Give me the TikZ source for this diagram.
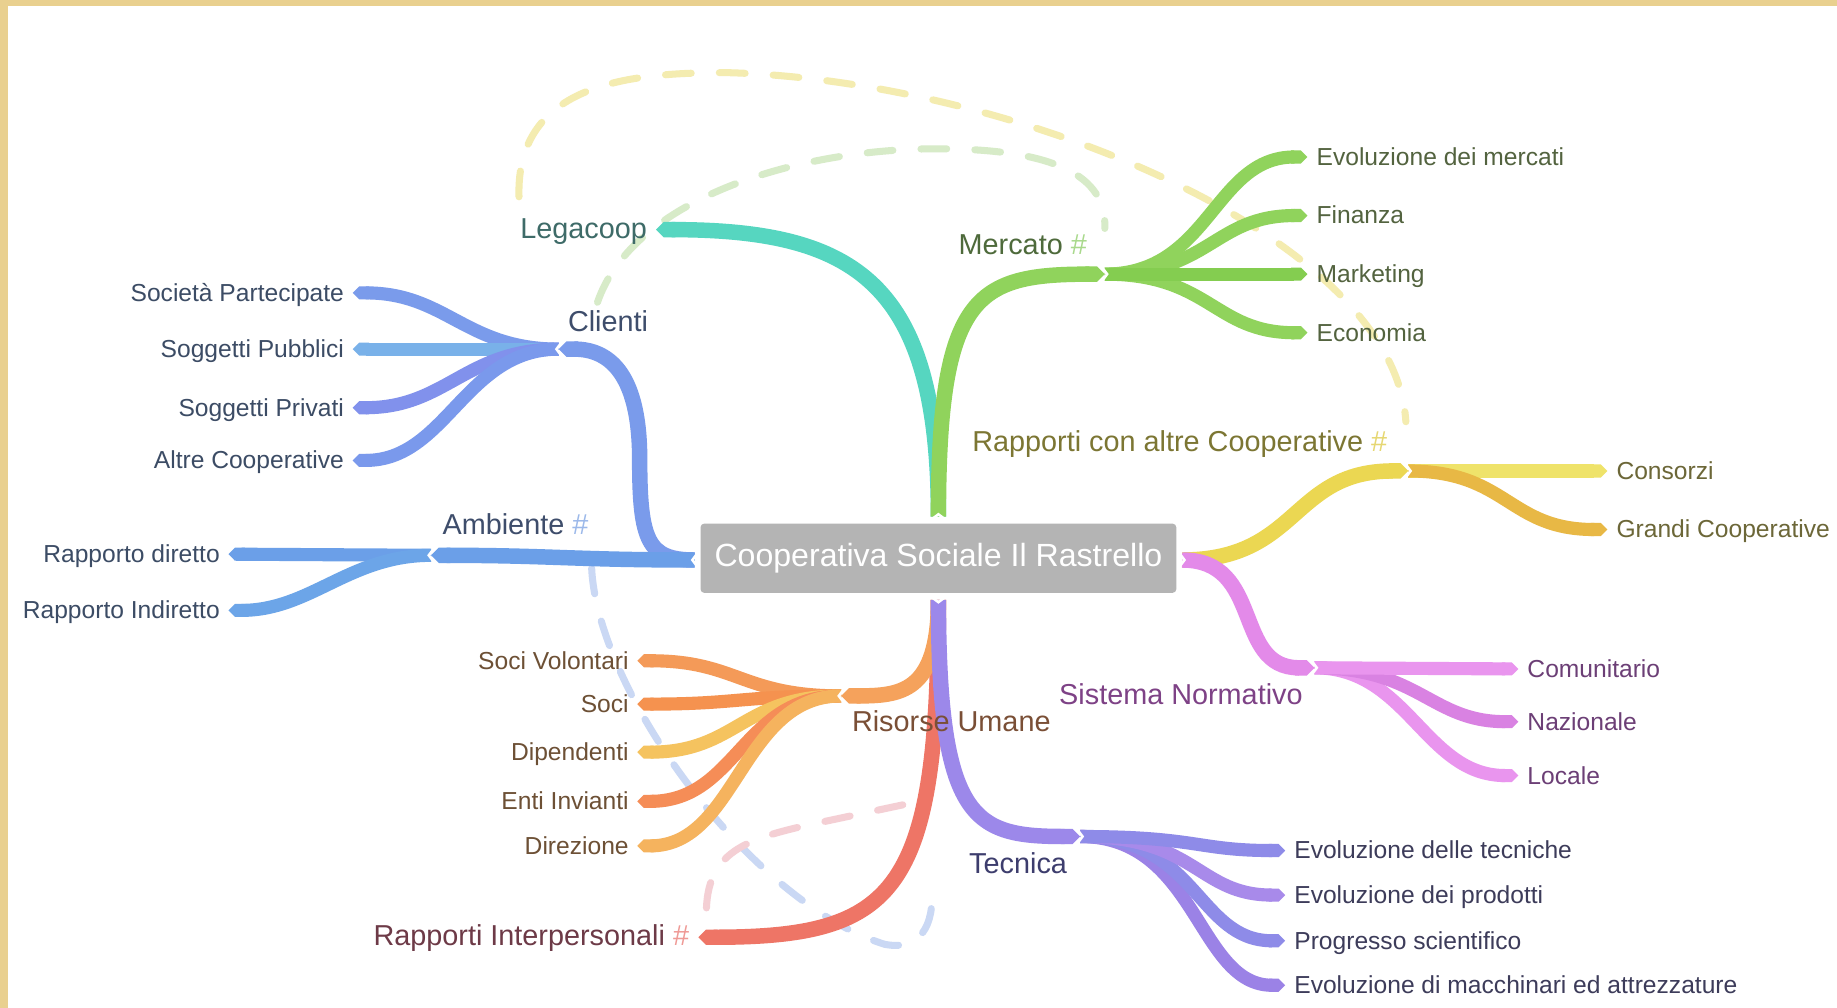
\documentclass[tikz,border=0pt]{standalone}
\usepackage{fontspec}
\setmainfont{Liberation Sans}
\usetikzlibrary{arrows.meta,calc}

% frame and centre box
\definecolor{frame}{HTML}{E9D08F}
\definecolor{rootgray}{HTML}{B4B4B4}
% branch colours
\definecolor{cTeal}{HTML}{56D6C0}
\definecolor{cGreen}{HTML}{90D35C}
\definecolor{cGreenB}{HTML}{84CD50}
\definecolor{cYellow}{HTML}{EBD752}
\definecolor{cYellowL}{HTML}{EFE36A}
\definecolor{cAmber}{HTML}{E8B845}
\definecolor{cPink}{HTML}{E38AE9}
\definecolor{cPinkL}{HTML}{E995EE}
\definecolor{cPinkD}{HTML}{D982E2}
\definecolor{cPurple}{HTML}{9C88EA}
\definecolor{cPurpA}{HTML}{8E8BE8}
\definecolor{cPurpB}{HTML}{A88AEA}
\definecolor{cPurpC}{HTML}{9B82E6}
\definecolor{cOrange}{HTML}{F5A25C}
\definecolor{cOrA}{HTML}{F49A58}
\definecolor{cOrB}{HTML}{F5924F}
\definecolor{cOrC}{HTML}{F5C35F}
\definecolor{cOrD}{HTML}{F58D57}
\definecolor{cOrE}{HTML}{F5B35E}
\definecolor{cRed}{HTML}{EE7566}
\definecolor{cBlueA}{HTML}{6B9FE8}
\definecolor{cBlueA2}{HTML}{6CA5E8}
\definecolor{cBlueC}{HTML}{7A9BEB}
\definecolor{cBlueP}{HTML}{79B1E9}
\definecolor{cBlueV}{HTML}{8191EC}
\definecolor{cBlueK}{HTML}{7A99EC}
% text colours
\definecolor{tTeal}{HTML}{3E6B68}
\definecolor{tGreen}{HTML}{4E6A3B}
\definecolor{tGreenS}{HTML}{53633F}
\definecolor{tOlive}{HTML}{7C7633}
\definecolor{tOliveS}{HTML}{6C6738}
\definecolor{tPurp}{HTML}{7E4286}
\definecolor{tPurpS}{HTML}{6C3F76}
\definecolor{tNavy}{HTML}{3D3D6D}
\definecolor{tNavyS}{HTML}{3D3C5A}
\definecolor{tBrown}{HTML}{7A4F36}
\definecolor{tBrownS}{HTML}{6D5035}
\definecolor{tRed}{HTML}{6D3A47}
\definecolor{tBlue}{HTML}{3E4D6B}
\definecolor{tBlueS}{HTML}{3C4C65}
% hash marks
\definecolor{hGreen}{HTML}{A9D98C}
\definecolor{hYellow}{HTML}{E6D772}
\definecolor{hBlue}{HTML}{9CB9EA}
\definecolor{hRed}{HTML}{EF9A96}
% relation links
\definecolor{lkYellow}{HTML}{F4ECB0}
\definecolor{lkGreen}{HTML}{D7EBC8}
\definecolor{lkBlue}{HTML}{CAD8F4}
\definecolor{lkPink}{HTML}{F4CFD4}

\pgfdeclarelayer{back}
\pgfdeclarelayer{notches}
\pgfsetlayers{back,notches,main}

\tikzset{
  rootbox/.style={fill=rootgray, rounded corners=1.5pt, minimum width=203pt,
    minimum height=29.5pt, inner sep=0pt, text=white,
    font=\fontsize{13.7}{16}\selectfont},
  toplabel/.style={inner sep=0pt, text height=0.72em, text depth=0pt,
    font=\fontsize{12.3}{14}\selectfont},
  leafR/.style={anchor=west, inner xsep=3.7pt, inner ysep=0pt,
    text height=0.72em, text depth=0pt, font=\fontsize{10.5}{12}\selectfont},
  leafL/.style={anchor=east, inner xsep=3.5pt, inner ysep=0pt,
    text height=0.72em, text depth=0pt, font=\fontsize{10.5}{12}\selectfont},
  endR/.style={toplabel, anchor=west, inner xsep=3.7pt},
  endL/.style={toplabel, anchor=east, inner xsep=3.7pt},
  trunk/.style={line width=6.6pt, -{Triangle Cap[]}},
  twig/.style={line width=5.6pt, -{Triangle Cap[]}},
  relink/.style={line width=3pt, line cap=round, dash pattern=on 11pt off 12pt},
  notch/.style={white, line width=1.1pt, line join=miter},
}

\begin{document}
\begin{tikzpicture}[x=0.5pt,y=-0.5pt]
\useasboundingbox (0,0) rectangle (1568,860);

% ---------- centre ----------
\node[rootbox] (root) at (801,476.5) {Cooperativa Sociale Il Rastrello};
\coordinate (rN) at (801,441);
\coordinate (rS) at (801,512);
\coordinate (rW) at (593,478);
\coordinate (rE) at (1009,478);

% ---------- labels ----------
\node[endL, text=tTeal] (lega) at (560,196) {Legacoop};

\node[toplabel, text=tGreen] (merc) at (873,210) {Mercato \textcolor{hGreen}{\#}};
\coordinate (mJ) at (943,234);
\node[leafR, text=tGreenS] (m1) at (1116,134) {Evoluzione dei mercati};
\node[leafR, text=tGreenS] (m2) at (1116,184) {Finanza};
\node[leafR, text=tGreenS] (m3) at (1116,234) {Marketing};
\node[leafR, text=tGreenS] (m4) at (1116,284) {Economia};

\node[toplabel, text=tOlive] (rapc) at (1007,378) {Rapporti con altre Cooperative \textcolor{hYellow}{\#}};
\coordinate (rcJ) at (1202,402);
\node[leafR, text=tOliveS] (c1) at (1372,402) {Consorzi};
\node[leafR, text=tOliveS] (c2) at (1372,452) {Grandi Cooperative};

\node[toplabel, text=tPurp] (sist) at (1008,594) {Sistema Normativo};
\coordinate (snJ) at (1122,570);
\node[leafR, text=tPurpS] (s1) at (1296,571) {Comunitario};
\node[leafR, text=tPurpS] (s2) at (1296,616) {Nazionale};
\node[leafR, text=tPurpS] (s3) at (1296,662) {Locale};

\node[toplabel, text=tNavy] (tecn) at (869,738) {Tecnica};
\coordinate (tJ) at (922,714);
\node[leafR, text=tNavyS] (t1) at (1097,726) {Evoluzione delle tecniche};
\node[leafR, text=tNavyS] (t2) at (1097,764) {Evoluzione dei prodotti};
\node[leafR, text=tNavyS] (t3) at (1097,803) {Progresso scientifico};
\node[leafR, text=tNavyS] (t4) at (1097,841) {Evoluzione di macchinari ed attrezzature};

\node[toplabel, text=tBrown] (riso) at (812,617) {Risorse Umane};
\coordinate (ruJ) at (718,594);
\node[leafL, text=tBrownS] (u1) at (544,564) {Soci Volontari};
\node[leafL, text=tBrownS] (u2) at (544,601) {Soci};
\node[leafL, text=tBrownS] (u3) at (544,642) {Dipendenti};
\node[leafL, text=tBrownS] (u4) at (544,684) {Enti Invianti};
\node[leafL, text=tBrownS] (u5) at (544,722) {Direzione};

\node[endL, text=tRed] (rint) at (596,800) {Rapporti Interpersonali \textcolor{hRed}{\#}};

\node[toplabel, text=tBlue] (amb) at (440,449) {Ambiente \textcolor{hBlue}{\#}};
\coordinate (amJ) at (368,474);
\node[leafL, text=tBlueS] (a1) at (195,473) {Rapporto diretto};
\node[leafL, text=tBlueS] (a2) at (195,521) {Rapporto Indiretto};

\node[toplabel, text=tBlue] (clie) at (519,276) {Clienti};
\coordinate (clM) at (546,392);
\coordinate (clJ) at (477,298);
\node[leafL, text=tBlueS] (k1) at (301,250) {Società Partecipate};
\node[leafL, text=tBlueS] (k2) at (301,298) {Soggetti Pubblici};
\node[leafL, text=tBlueS] (k3) at (301,348) {Soggetti Privati};
\node[leafL, text=tBlueS] (k4) at (301,393) {Altre Cooperative};

% free ends of the relation links
\coordinate (lkYa) at (443,168);
\coordinate (lkYm) at (620,62);
\coordinate (lkYb) at (1200,360);
\coordinate (lkGa) at (510,258);
\coordinate (lkGm) at (800,127);
\coordinate (lkGb) at (943,195);
\coordinate (lkBa) at (505,485);
\coordinate (lkBm) at (755,806);
\coordinate (lkBb) at (795,758);
\coordinate (lkPa) at (603,775);
\coordinate (lkPm) at (700,702);
\coordinate (lkPb) at (780,685);

\begin{pgfonlayer}{back}
  % paper frame
  \fill[white] (0,0) rectangle (1568,860);
  \fill[frame] (0,0) rectangle (1568,5);
  \fill[frame] (0,0) rectangle (7,860);

  % relation links
  \draw[relink, lkYellow] (lkYa) .. controls +(-3,-98) and +(-80,0) .. (lkYm)
        .. controls +(240,6) and +(-10,-160) .. (lkYb);
  \draw[relink, lkGreen] (lkGa) .. controls +(30,-88) and +(-120,0) .. (lkGm)
        .. controls +(100,0) and +(2,-45) .. (lkGb);
  \draw[relink, lkBlue] (lkBa) .. controls +(5,105) and +(-115,-36) .. (lkBm)
        .. controls +(30,6) and +(3,32) .. (lkBb);
  \draw[relink, lkPink] (lkPa) .. controls +(2,-50) and +(-60,13) .. (lkPm) -- (lkPb);

  % upper branches
  \draw[trunk, cTeal] (rN) .. controls +(0,-200) and +(170,0) .. (lega.east);
  \draw[trunk, cGreen] (rN) .. controls +(0,-190) and +(-110,0) .. (mJ);
  \draw[twig, cGreen] (mJ) .. controls +(90,0) and +(-80,0) .. (m1.west);
  \draw[twig, cGreen] (mJ) .. controls +(90,0) and +(-80,0) .. (m2.west);
  \draw[twig, cGreen] (mJ) .. controls +(90,0) and +(-80,0) .. (m4.west);
  \draw[twig, cGreenB] (mJ) -- (m3.west);

  % right branches
  \draw[trunk, cYellow] (rE) .. controls +(100,0) and +(-100,0) .. (rcJ);
  \draw[twig, cYellowL] (rcJ) -- (c1.west);
  \draw[twig, cAmber] (rcJ) .. controls +(85,0) and +(-85,0) .. (c2.west);

  \draw[trunk, cPink] (rE) .. controls +(70,0) and +(-70,0) .. (snJ);
  \draw[twig, cPinkL] (snJ) .. controls +(80,0) and +(-80,0) .. (s3.west);
  \draw[twig, cPinkD] (snJ) .. controls +(90,0) and +(-75,0) .. (s2.west);
  \draw[twig, cPinkL] (snJ) -- (s1.west);

  % lower branches
  \draw[trunk, cRed] (rS) .. controls +(0,250) and +(170,0) .. (rint.east);
  \draw[trunk, cOrange] (rS) .. controls +(0,80) and +(50,0) .. (ruJ);
  \draw[twig, cOrA] (ruJ) .. controls +(-85,0) and +(85,0) .. (u1.east);
  \draw[twig, cOrB] (ruJ) .. controls +(-85,0) and +(85,0) .. (u2.east);
  \draw[twig, cOrC] (ruJ) .. controls +(-85,0) and +(85,0) .. (u3.east);
  \draw[twig, cOrD] (ruJ) .. controls +(-85,0) and +(85,0) .. (u4.east);
  \draw[twig, cOrE] (ruJ) .. controls +(-85,0) and +(85,0) .. (u5.east);

  \draw[trunk, cPurple] (rS) .. controls +(0,190) and +(-90,0) .. (tJ);
  \draw[twig, cPurpC] (tJ) .. controls +(100,0) and +(-75,0) .. (t4.west);
  \draw[twig, cPurpA] (tJ) .. controls +(100,0) and +(-75,0) .. (t3.west);
  \draw[twig, cPurpB] (tJ) .. controls +(100,0) and +(-75,0) .. (t2.west);
  \draw[twig, cPurpA] (tJ) .. controls +(100,0) and +(-75,0) .. (t1.west);

  % left branches
  \draw[trunk, cBlueC] (rW) .. controls +(-40,0) and +(0,70) .. (clM)
        .. controls +(0,-70) and +(45,0) .. (clJ);
  \draw[twig, cBlueC] (clJ) .. controls +(-80,0) and +(80,0) .. (k1.east);
  \draw[twig, cBlueP] (clJ) -- (k2.east);
  \draw[twig, cBlueV] (clJ) .. controls +(-80,0) and +(80,0) .. (k3.east);
  \draw[twig, cBlueK] (clJ) .. controls +(-80,0) and +(80,0) .. (k4.east);

  \draw[trunk, cBlueA] (rW) .. controls +(-100,0) and +(100,0) .. (amJ);
  \draw[twig, cBlueA] (amJ) -- (a1.east);
  \draw[twig, cBlueA2] (amJ) .. controls +(-70,0) and +(70,0) .. (a2.east);
\end{pgfonlayer}

% white chevrons where a branch leaves its parent
\begin{pgfonlayer}{notches}
  \foreach \j in {mJ,rcJ,snJ,tJ,rE}
    \draw[notch] ([shift={(-4,-8)}]\j) -- ([shift={(2,0)}]\j) -- ([shift={(-4,8)}]\j);
  \foreach \j in {ruJ,amJ,clJ,rW}
    \draw[notch] ([shift={(4,-8)}]\j) -- ([shift={(-2,0)}]\j) -- ([shift={(4,8)}]\j);
  \draw[notch] ([shift={(-8,4)}]rN) -- ([shift={(0,-2)}]rN) -- ([shift={(8,4)}]rN);
  \draw[notch] ([shift={(-8,-4)}]rS) -- ([shift={(0,2)}]rS) -- ([shift={(8,-4)}]rS);
\end{pgfonlayer}
\end{tikzpicture}
\end{document}
